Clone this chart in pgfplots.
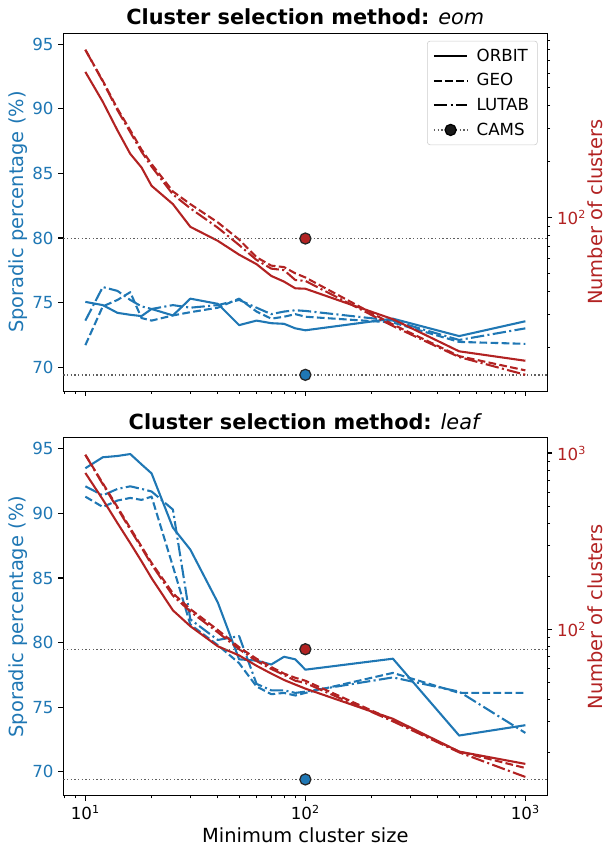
\documentclass[border=0pt]{standalone}
\usepackage{fontspec}
\setmainfont{DejaVu Sans}
\usepackage{pgfplots}
\usepackage{pgfplotstable}
\pgfplotsset{compat=1.18}

\definecolor{clblue}{HTML}{1F77B4}
\definecolor{clred}{HTML}{B22222}
\definecolor{refgray}{HTML}{606060}

% Sporadic percentage (S) and number of clusters (N) per feature set
\pgfplotstableread{
x    orbS  geoS  lutS  orbN geoN lutN
10   75.05 71.7  73.6  608  800  800
12   74.8  74.7  76.2  420  545  540
14   74.2  75.2  75.9  294  385  378
16   74.05 75.8  75.2  220  295  288
18   73.95 73.8  74.7  186  232  226
20   74.5  73.6  74.5  148  194  188
25   74.0  74.0  74.8  118  138  133
30   75.3  74.25 74.6  89   118  112
40   74.9  74.6  74.8  74.8 94   88
50   73.25 75.3  75.2  63   76   71
60   73.6  74.3  74.6  56   61   59
70   73.4  73.75 74.1  48.4 55   53
80   73.35 73.9  74.3  45.1 54   52
90   73.0  74.1  74.4  41.5 50   46
100  72.85 73.9  74.35 41.3 47.5 45.5
250  73.75 73.45 73.6  28.3 26.5 26
500  72.4  71.95 72.1  19.0 17.9 17.7
1000 73.55 71.8  73.0  16.9 15.0 14.2
}\eomdata

\pgfplotstableread{
x    orbS  geoS  lutS  orbN geoN lutN
10   93.5  91.3  92.1  771  977  977
12   94.35 90.5  91.4  545  674  665
14   94.45 91.0  91.9  400  493  485
16   94.6  91.2  92.1  308  375  368
18   93.8  91.05 91.9  243  295  290
20   93.1  91.3  91.7  195  238  233
25   88.9  85.9  90.3  128  160  155
30   87.2  81.4  81.8  104  130  126
40   83.1  79.8  80.2  80   99   96
50   78.7  78.4  80.5  71   79   77
60   78.6  76.6  76.8  62   68   66
70   78.3  76.0  76.3  56   61   59.5
80   78.9  76.1  76.3  51.5 56   55
90   78.7  75.9  76.1  48.5 53   51
100  77.9  76.1  76.2  46   51   49.5
250  78.75 77.65 77.3  31   30.5 30
500  72.8  76.1  76.2  20.2 20.2 20.0
1000 73.6  76.1  73.0  17.2 16.3 14.5
}\leafdata

\tikzset{
  lsolid/.style={line width=1.5pt, line join=round},
  ldashed/.style={line width=1.5pt, line join=round, dash pattern=on 5.55pt off 2.4pt},
  ldashdot/.style={line width=1.5pt, line join=round, dash pattern=on 9.6pt off 2.4pt on 1.5pt off 2.4pt},
  camsline/.style={refgray, line width=1pt, dash pattern=on 1pt off 1.65pt},
}

\pgfplotsset{
  every axis title shift=0pt,
  every axis/.append style={
    scale only axis, width=348.5pt, height=257.7pt,
    tick align=outside, major tick length=3.5pt, minor tick length=2pt,
    major tick style={black, line width=0.8pt},
    minor tick style={black, line width=0.6pt},
    axis line style={line width=0.8pt},
    tick label style={font=\fontsize{12}{14}\selectfont},
    label style={font=\fontsize{14}{17}\selectfont},
    title style={font=\fontsize{15}{18}\selectfont},
  },
}

\begin{document}
\begin{tikzpicture}
\path[use as bounding box] (-45.6pt,-39.1pt) rectangle (390.8pt,572.9pt);

% ---------- upper panel: eom ----------
\begin{axis}[at={(0pt,291.3pt)},
  xmode=log, xmin=7.943, xmax=1258.9,
  xtick={10,100,1000}, xticklabels={,,},
  minor xtick={8,9,20,30,40,50,60,70,80,90,200,300,400,500,600,700,800,900},
  ymin=68.14, ymax=95.86, ytick={70,75,80,85,90,95},
  xtick pos=left, ytick pos=left,
  yticklabel style={text=clblue},
  ylabel={Sporadic percentage (\%)},
  ylabel style={text=clblue, at={(axis description cs:-0.0935,0.5)}, anchor=center},
  title={\textbf{Cluster selection method:} \textit{eom}},
  title style={at={(axis description cs:0.5,1)}, anchor=base, yshift=6pt},
  /pgf/number format/assume math mode=true]
\addplot[clblue, lsolid] table[x=x, y=orbS] {\eomdata};
\addplot[clblue, ldashed] table[x=x, y=geoS] {\eomdata};
\addplot[clblue, ldashdot] table[x=x, y=lutS] {\eomdata};
\addplot[camsline] coordinates {(7.943,69.4) (1258.9,69.4)};
\addplot[only marks, mark=*, mark size=4pt, mark options={fill=clblue, draw=black!85, line width=0.9pt}] coordinates {(100,69.4)};
\end{axis}
\begin{axis}[at={(0pt,291.3pt)},
  xmode=log, ymode=log, xmin=7.943, xmax=1258.9,
  axis x line=none, axis y line*=right,
  ymin=11.6, ymax=983,
  ytick={100}, yticklabels={\mbox{10\textsuperscript{2}}},
  minor ytick={20,30,40,50,60,70,80,90,200,300,400,500,600,700,800,900},
  yticklabel style={text=clred},
  ylabel={Number of clusters},
  ylabel style={text=clred, at={(axis description cs:1.0985,0.5)}, anchor=center},
  legend style={at={(axis description cs:1,1)}, anchor=north east, xshift=-7pt, yshift=-5.5pt,
    draw=black!20, rounded corners=2pt, fill=white, fill opacity=0.8, text opacity=1,
    font=\fontsize{12}{14}\selectfont, inner xsep=4pt, inner ysep=3.5pt, row sep=3.4pt,
    /tikz/every odd column/.append style={column sep=4pt},
    cells={anchor=west}}]
\addlegendimage{legend image code/.code={\draw[black, lsolid] (0pt,0pt) -- (24pt,0pt);}}
\addlegendentry{ORBIT}
\addlegendimage{legend image code/.code={\draw[black, ldashed] (0pt,0pt) -- (24pt,0pt);}}
\addlegendentry{GEO}
\addlegendimage{legend image code/.code={\draw[black, ldashdot] (0pt,0pt) -- (24pt,0pt);}}
\addlegendentry{LUTAB}
\addlegendimage{legend image code/.code={\draw[camsline] (0pt,0pt) -- (24pt,0pt);
  \filldraw[fill=black!90, fill opacity=1, draw=black, line width=0.9pt] (12pt,0pt) circle (4pt);}}
\addlegendentry{CAMS}
\addplot[clred, lsolid, forget plot] table[x=x, y=orbN] {\eomdata};
\addplot[clred, ldashed, forget plot] table[x=x, y=geoN] {\eomdata};
\addplot[clred, ldashdot, forget plot] table[x=x, y=lutN] {\eomdata};
\addplot[camsline, forget plot] coordinates {(7.943,77) (1258.9,77)};
\addplot[only marks, forget plot, mark=*, mark size=4pt, mark options={fill=clred, draw=black!85, line width=0.9pt}] coordinates {(100,77)};
\end{axis}

% ---------- lower panel: leaf ----------
\begin{axis}[at={(0pt,0pt)},
  xmode=log, xmin=7.943, xmax=1258.9,
  xtick={10,100,1000},
  xticklabels={\mbox{10\textsuperscript{1}},\mbox{10\textsuperscript{2}},\mbox{10\textsuperscript{3}}},
  minor xtick={8,9,20,30,40,50,60,70,80,90,200,300,400,500,600,700,800,900},
  ymin=68.14, ymax=95.86, ytick={70,75,80,85,90,95},
  xtick pos=left, ytick pos=left,
  yticklabel style={text=clblue},
  ylabel={Sporadic percentage (\%)},
  ylabel style={text=clblue, at={(axis description cs:-0.0935,0.5)}, anchor=center},
  xlabel={Minimum cluster size},
  xlabel style={at={(axis description cs:0.5,0)}, anchor=center, yshift=-28.5pt},
  title={\textbf{Cluster selection method:} \textit{leaf}},
  title style={at={(axis description cs:0.5,1)}, anchor=base, yshift=6pt},
  /pgf/number format/assume math mode=true]
\addplot[clblue, lsolid] table[x=x, y=orbS] {\leafdata};
\addplot[clblue, ldashed] table[x=x, y=geoS] {\leafdata};
\addplot[clblue, ldashdot] table[x=x, y=lutS] {\leafdata};
\addplot[camsline] coordinates {(7.943,69.4) (1258.9,69.4)};
\addplot[only marks, mark=*, mark size=4pt, mark options={fill=clblue, draw=black!85, line width=0.9pt}] coordinates {(100,69.4)};
\end{axis}
\begin{axis}[at={(0pt,0pt)},
  xmode=log, ymode=log, xmin=7.943, xmax=1258.9,
  axis x line=none, axis y line*=right,
  ymin=11.35, ymax=1221,
  ytick={100,1000}, yticklabels={\mbox{10\textsuperscript{2}},\mbox{10\textsuperscript{3}}},
  minor ytick={20,30,40,50,60,70,80,90,200,300,400,500,600,700,800,900},
  yticklabel style={text=clred},
  ylabel={Number of clusters},
  ylabel style={text=clred, at={(axis description cs:1.0985,0.5)}, anchor=center}]
\addplot[clred, lsolid] table[x=x, y=orbN] {\leafdata};
\addplot[clred, ldashed] table[x=x, y=geoN] {\leafdata};
\addplot[clred, ldashdot] table[x=x, y=lutN] {\leafdata};
\addplot[camsline] coordinates {(7.943,77) (1258.9,77)};
\addplot[only marks, mark=*, mark size=4pt, mark options={fill=clred, draw=black!85, line width=0.9pt}] coordinates {(100,77)};
\end{axis}
\end{tikzpicture}
\end{document}
